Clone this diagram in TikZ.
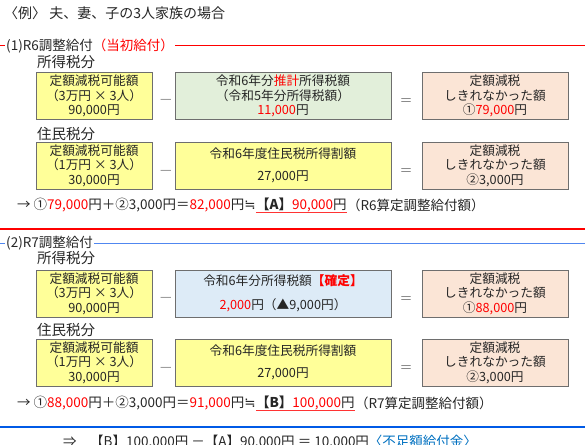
\documentclass[tikz,border=0pt]{standalone}
\usepackage{fontspec}
\setmainfont{Noto Sans CJK JP}
\newfontfamily\symfont{DejaVu Sans}
\definecolor{boxyellow}{RGB}{255,255,153}
\definecolor{boxgreen}{RGB}{226,239,218}
\definecolor{boxpeach}{RGB}{251,229,214}
\definecolor{boxblue}{RGB}{221,235,247}
\definecolor{txt}{RGB}{38,38,38}
\definecolor{redtxt}{RGB}{255,0,0}
\definecolor{bluetxt}{RGB}{0,112,192}
\definecolor{lineblueA}{RGB}{80,135,240}
\definecolor{lineblueB}{RGB}{0,90,230}
\definecolor{boxborder}{RGB}{110,110,110}
\begin{document}
\begin{tikzpicture}[x=1pt,y=-1pt,
  box/.style={draw=boxborder,line width=0.9pt,minimum height=47pt,align=center,inner sep=0pt,
    font=\fontsize{12.7}{14.5}\selectfont,text=txt},
  ybox/.style={box,fill=boxyellow,minimum width=116pt},
  pbox/.style={box,fill=boxpeach,minimum width=146pt},
  wbox/.style={box,minimum width=216pt},
  op/.style={inner sep=0pt,font=\fontsize{13}{14}\selectfont,text=txt!60},
  lbl/.style={anchor=west,inner sep=0pt,font=\fontsize{14.5}{16}\selectfont,text=txt},
  head/.style={anchor=west,inner sep=1pt,font=\fontsize{13.5}{15}\selectfont,text=txt},
  seg/.style={anchor=west,inner sep=0pt,font=\fontsize{13.5}{15}\selectfont,text=txt},
]
\useasboundingbox (0,0) rectangle (585,444);

% title
\node[head,font=\fontsize{14}{16}\selectfont] (title) at (3,13) {〈例〉 夫、妻、子の3人家族の場合};

% ---------- section 1 ----------
\coordinate (s1l) at (0,46);
\coordinate (s1r) at (585,46);
\node[head] (h1) at (5,46) {(1)R6調整給付{\color{redtxt}（当初給付）}};
\draw[red,line width=1pt] (s1l) -- (h1.west) (h1.east) -- (s1r);

\node[lbl] (l1) at (37,62) {所得税分};
\node[ybox] (b11) at (94,96) {定額減税可能額\\（3万円 × 3人）\\90,000円};
\node[op] (m11) at (166,101) {—};
\node[wbox,fill=boxgreen] (b12) at (283,96) {令和6年分{\color{redtxt}推計}所得税額\\（令和5年分所得税額）\\{\color{redtxt}11,000}円};
\node[op] (e11) at (406,102) {＝};
\node[pbox] (b13) at (495,96) {定額減税\\しきれなかった額\\①{\color{redtxt}79,000}円};

\node[lbl] (l2) at (37,134) {住民税分};
\node[ybox] (b21) at (94,165.5) {定額減税可能額\\（1万円 × 3人）\\30,000円};
\node[op] (m21) at (166,172) {—};
\node[wbox,fill=boxyellow] (b22) at (283,165.5) {令和6年度住民税所得割額\\[7pt]27,000円};
\node[op] (e21) at (406,172) {＝};
\node[pbox] (b23) at (495,165.5) {定額減税\\しきれなかった額\\②3,000円};

\node[seg] (a1) at (17,205) {→ ①{\color{redtxt}79,000}円＋②3,000円＝{\color{redtxt}82,000}円{\symfont ≒}};
\node[seg] (a2) at (a1.east) {{\bfseries【A】}{\color{redtxt}90,000}円};
\node[seg] (a3) at (a2.east) {（R6算定調整給付額）};
\draw[red!80,line width=0.8pt] (a2.south west) -- (a2.south east);

\coordinate (r1l) at (0,229);
\coordinate (r1r) at (585,229);
\draw[red,line width=1.5pt] (r1l) -- (r1r);

% ---------- section 2 ----------
\coordinate (s2l) at (0,243);
\coordinate (s2r) at (585,243);
\node[head] (h2) at (5,243) {(2)R7調整給付};
\draw[lineblueA,line width=1pt] (s2l) -- (h2.west) (h2.east) -- (s2r);

\node[lbl] (l3) at (37,258) {所得税分};
\node[ybox] (b31) at (94,293.5) {定額減税可能額\\（3万円 × 3人）\\90,000円};
\node[op] (m31) at (166,299) {—};
\node[wbox,fill=boxblue] (b32) at (283,293.5) {令和6年分所得税額{\color{redtxt}\bfseries【確定】}\\[9pt]{\color{redtxt}2,000}円（▲9,000円）};
\node[op] (e31) at (406,300) {＝};
\node[pbox] (b33) at (495,293.5) {定額減税\\しきれなかった額\\①{\color{redtxt}88,000}円};

\node[lbl] (l4) at (37,330) {住民税分};
\node[ybox] (b41) at (94,362.5) {定額減税可能額\\（1万円 × 3人）\\30,000円};
\node[op] (m41) at (166,369) {—};
\node[wbox,fill=boxyellow] (b42) at (283,362.5) {令和6年度住民税所得割額\\[7pt]27,000円};
\node[op] (e41) at (406,369) {＝};
\node[pbox] (b43) at (495,362.5) {定額減税\\しきれなかった額\\②3,000円};

\node[seg] (c1) at (17,403) {→ ①{\color{redtxt}88,000}円＋②3,000円＝{\color{redtxt}91,000}円{\symfont ≒}};
\node[seg] (c2) at (c1.east) {{\bfseries【B】}{\color{redtxt}100,000}円};
\node[seg] (c3) at (c2.east) {（R7算定調整給付額）};
\draw[red!80,line width=0.8pt] (c2.south west) -- (c2.south east);

\coordinate (r2l) at (0,427);
\coordinate (r2r) at (585,427);
\draw[lineblueB,line width=2pt] (r2l) -- (r2r);

\node[seg,font=\fontsize{13.5}{16}\selectfont] (fin) at (63,442) {⇒　【B】100,000円 －【A】90,000円 ＝ 10,000円{\color{bluetxt}〈不足額給付金〉}};
\end{tikzpicture}
\end{document}
